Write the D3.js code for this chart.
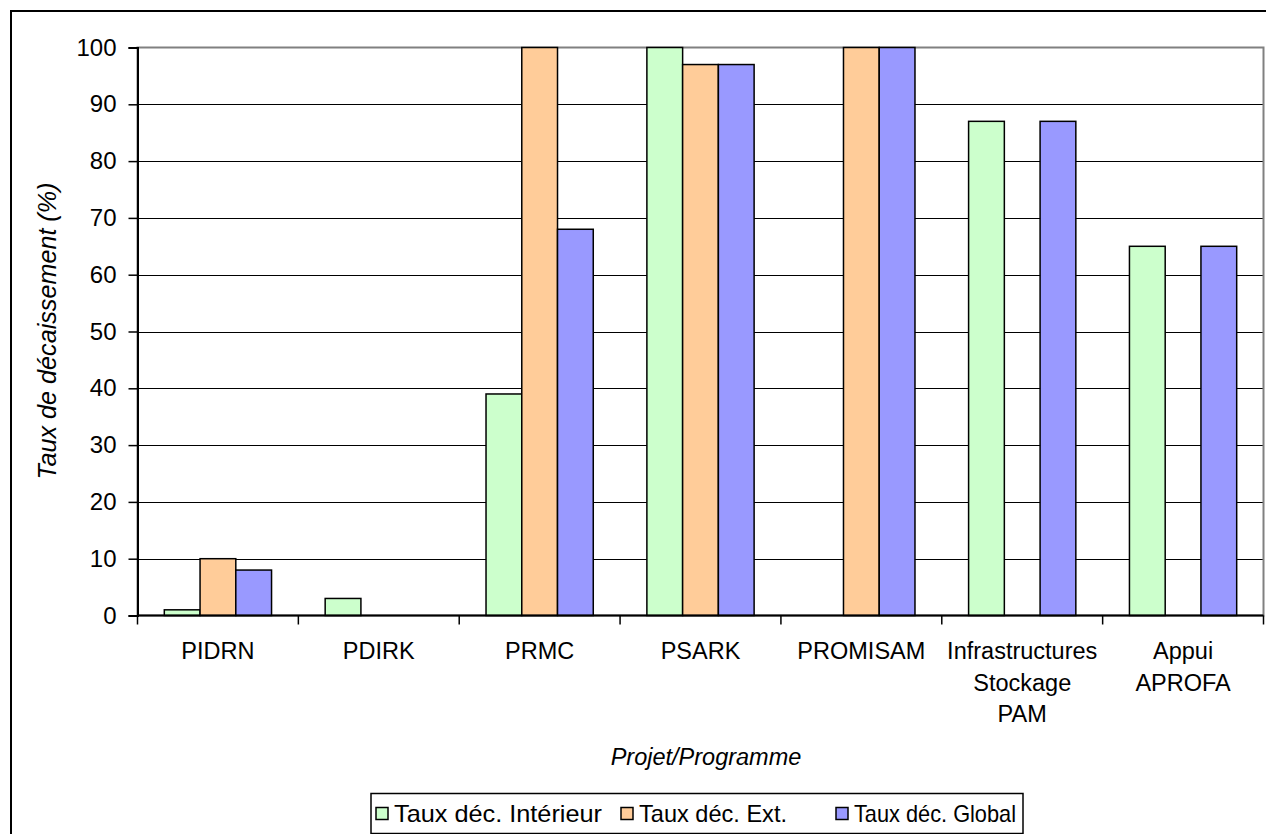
<!DOCTYPE html>
<html>
<head>
<meta charset="utf-8">
<script src="https://cdn.jsdelivr.net/npm/d3@7"></script>
<style>
  html, body { margin: 0; padding: 0; background: #fff; }
  svg { display: block; font-family: "Liberation Sans", Arial, sans-serif; }
</style>
</head>
<body>
<svg id="chart" width="1266" height="834"></svg>
<script>
const categories = [
  ["PIDRN"],
  ["PDIRK"],
  ["PRMC"],
  ["PSARK"],
  ["PROMISAM"],
  ["Infrastructures", "Stockage", "PAM"],
  ["Appui", "APROFA"]
];
const seriesNames = ["Taux déc. Intérieur", "Taux déc. Ext.", "Taux déc. Global"];
const interieur = [1, 3, 39, 100, 0, 87, 65];
const exterieur = [10, 0, 100, 97, 100, 0, 0];
const global = [8, 0, 68, 97, 100, 87, 65];
const seriesColors = ["#CCFFCC", "#FFCC99", "#9999FF"];
const yTicks = [0, 10, 20, 30, 40, 50, 60, 70, 80, 90, 100];
const yTitle = "Taux de décaissement (%)";
const xTitle = "Projet/Programme";

const seriesValues = [interieur, exterieur, global];
const catKeys = categories.map(c => c.join(" "));

const svg = d3.select("#chart");
const plot = { left: 137.5, right: 1263.5, top: 47.5, bottom: 615.5 };

// outer chart border
svg.append("rect")
  .attr("x", 11).attr("y", 11)
  .attr("width", 1300).attr("height", 900)
  .attr("fill", "none").attr("stroke", "#000").attr("stroke-width", 2);

const x0 = d3.scaleBand().domain(catKeys).range([plot.left, plot.right]).paddingInner(0).paddingOuter(0);
const x1 = d3.scaleBand().domain(seriesNames).range([0, x0.bandwidth()]).paddingInner(0).paddingOuter(0.75);
const y = d3.scaleLinear().domain([0, 100]).range([plot.bottom, plot.top]);

// gridlines
svg.append("g").selectAll("line")
  .data(yTicks.filter(t => t > 0 && t < 100))
  .join("line")
  .attr("x1", plot.left).attr("x2", plot.right)
  .attr("y1", d => Math.round(y(d)) + 0.5).attr("y2", d => Math.round(y(d)) + 0.5)
  .attr("stroke", "#000").attr("stroke-width", 1);

// plot area border (top/right gray)
svg.append("rect")
  .attr("x", plot.left).attr("y", plot.top)
  .attr("width", plot.right - plot.left).attr("height", plot.bottom - plot.top)
  .attr("fill", "none").attr("stroke", "#808080").attr("stroke-width", 2);

// bars
const barData = [];
catKeys.forEach((c, i) => {
  seriesNames.forEach((s, j) => {
    barData.push({ cat: c, series: s, value: seriesValues[j][i], color: seriesColors[j] });
  });
});
svg.append("g").selectAll("rect")
  .data(barData.filter(d => d.value > 0))
  .join("rect")
  .attr("x", d => x0(d.cat) + x1(d.series))
  .attr("y", d => y(d.value))
  .attr("width", x1.bandwidth())
  .attr("height", d => y(0) - y(d.value))
  .attr("fill", d => d.color)
  .attr("stroke", "#000").attr("stroke-width", 1.5);

// y axis
const yAxis = d3.axisLeft(y).tickValues(yTicks).tickSize(9).tickPadding(12).tickFormat(d3.format("d"));
const gy = svg.append("g").attr("transform", `translate(${plot.left},0)`).call(yAxis);
gy.select(".domain").attr("stroke", "#000").attr("stroke-width", 2);
gy.selectAll(".tick line").attr("stroke", "#000").attr("stroke-width", 1.5);
gy.selectAll(".tick text").attr("font-size", 24).attr("fill", "#000")
  .attr("font-family", "'Liberation Sans', Arial, sans-serif");

// x axis with ticks at category boundaries
const gx = svg.append("g");
gx.append("line")
  .attr("x1", plot.left).attr("x2", plot.right)
  .attr("y1", plot.bottom).attr("y2", plot.bottom)
  .attr("stroke", "#000").attr("stroke-width", 2);
const boundaries = catKeys.map(c => x0(c)).concat([x0(catKeys[catKeys.length - 1]) + x0.bandwidth()]);
gx.selectAll("line.tk").data(boundaries).join("line").attr("class", "tk")
  .attr("x1", d => d).attr("x2", d => d)
  .attr("y1", plot.bottom).attr("y2", plot.bottom + 9)
  .attr("stroke", "#000").attr("stroke-width", 1.5);
const labels = gx.selectAll("text.cat").data(categories).join("text").attr("class", "cat")
  .attr("x", (d, i) => x0(catKeys[i]) + x0.bandwidth() / 2)
  .attr("y", 659)
  .attr("text-anchor", "middle")
  .attr("font-size", 23.5).attr("fill", "#000");
labels.each(function(d) {
  const t = d3.select(this);
  d.forEach((line, k) => {
    t.append("tspan").attr("x", t.attr("x")).attr("dy", k === 0 ? 0 : 31.5).text(line);
  });
});

// axis titles
svg.append("text")
  .attr("transform", "translate(56,331) rotate(-90)")
  .attr("text-anchor", "middle")
  .attr("font-size", 25).attr("font-style", "italic").attr("fill", "#000")
  .attr("textLength", 297).attr("lengthAdjust", "spacingAndGlyphs")
  .text(yTitle);
svg.append("text")
  .attr("x", 706).attr("y", 765)
  .attr("text-anchor", "middle")
  .attr("font-size", 23.5).attr("font-style", "italic").attr("fill", "#000")
  .text(xTitle);

// legend
const legend = svg.append("g");
legend.append("rect")
  .attr("x", 371).attr("y", 793.5).attr("width", 652).attr("height", 40)
  .attr("fill", "#fff").attr("stroke", "#000").attr("stroke-width", 1.5);
const legendX = [376, 621, 836];
const legendLen = [208, 148, 162];
seriesNames.forEach((s, j) => {
  legend.append("rect")
    .attr("x", legendX[j]).attr("y", 807.5).attr("width", 12).attr("height", 12)
    .attr("fill", seriesColors[j]).attr("stroke", "#000").attr("stroke-width", 1.5);
  legend.append("text")
    .attr("x", legendX[j] + 18).attr("y", 822)
    .attr("font-size", 24).attr("fill", "#000")
    .attr("textLength", legendLen[j]).attr("lengthAdjust", "spacingAndGlyphs")
    .text(s);
});
</script>
</body>
</html>
